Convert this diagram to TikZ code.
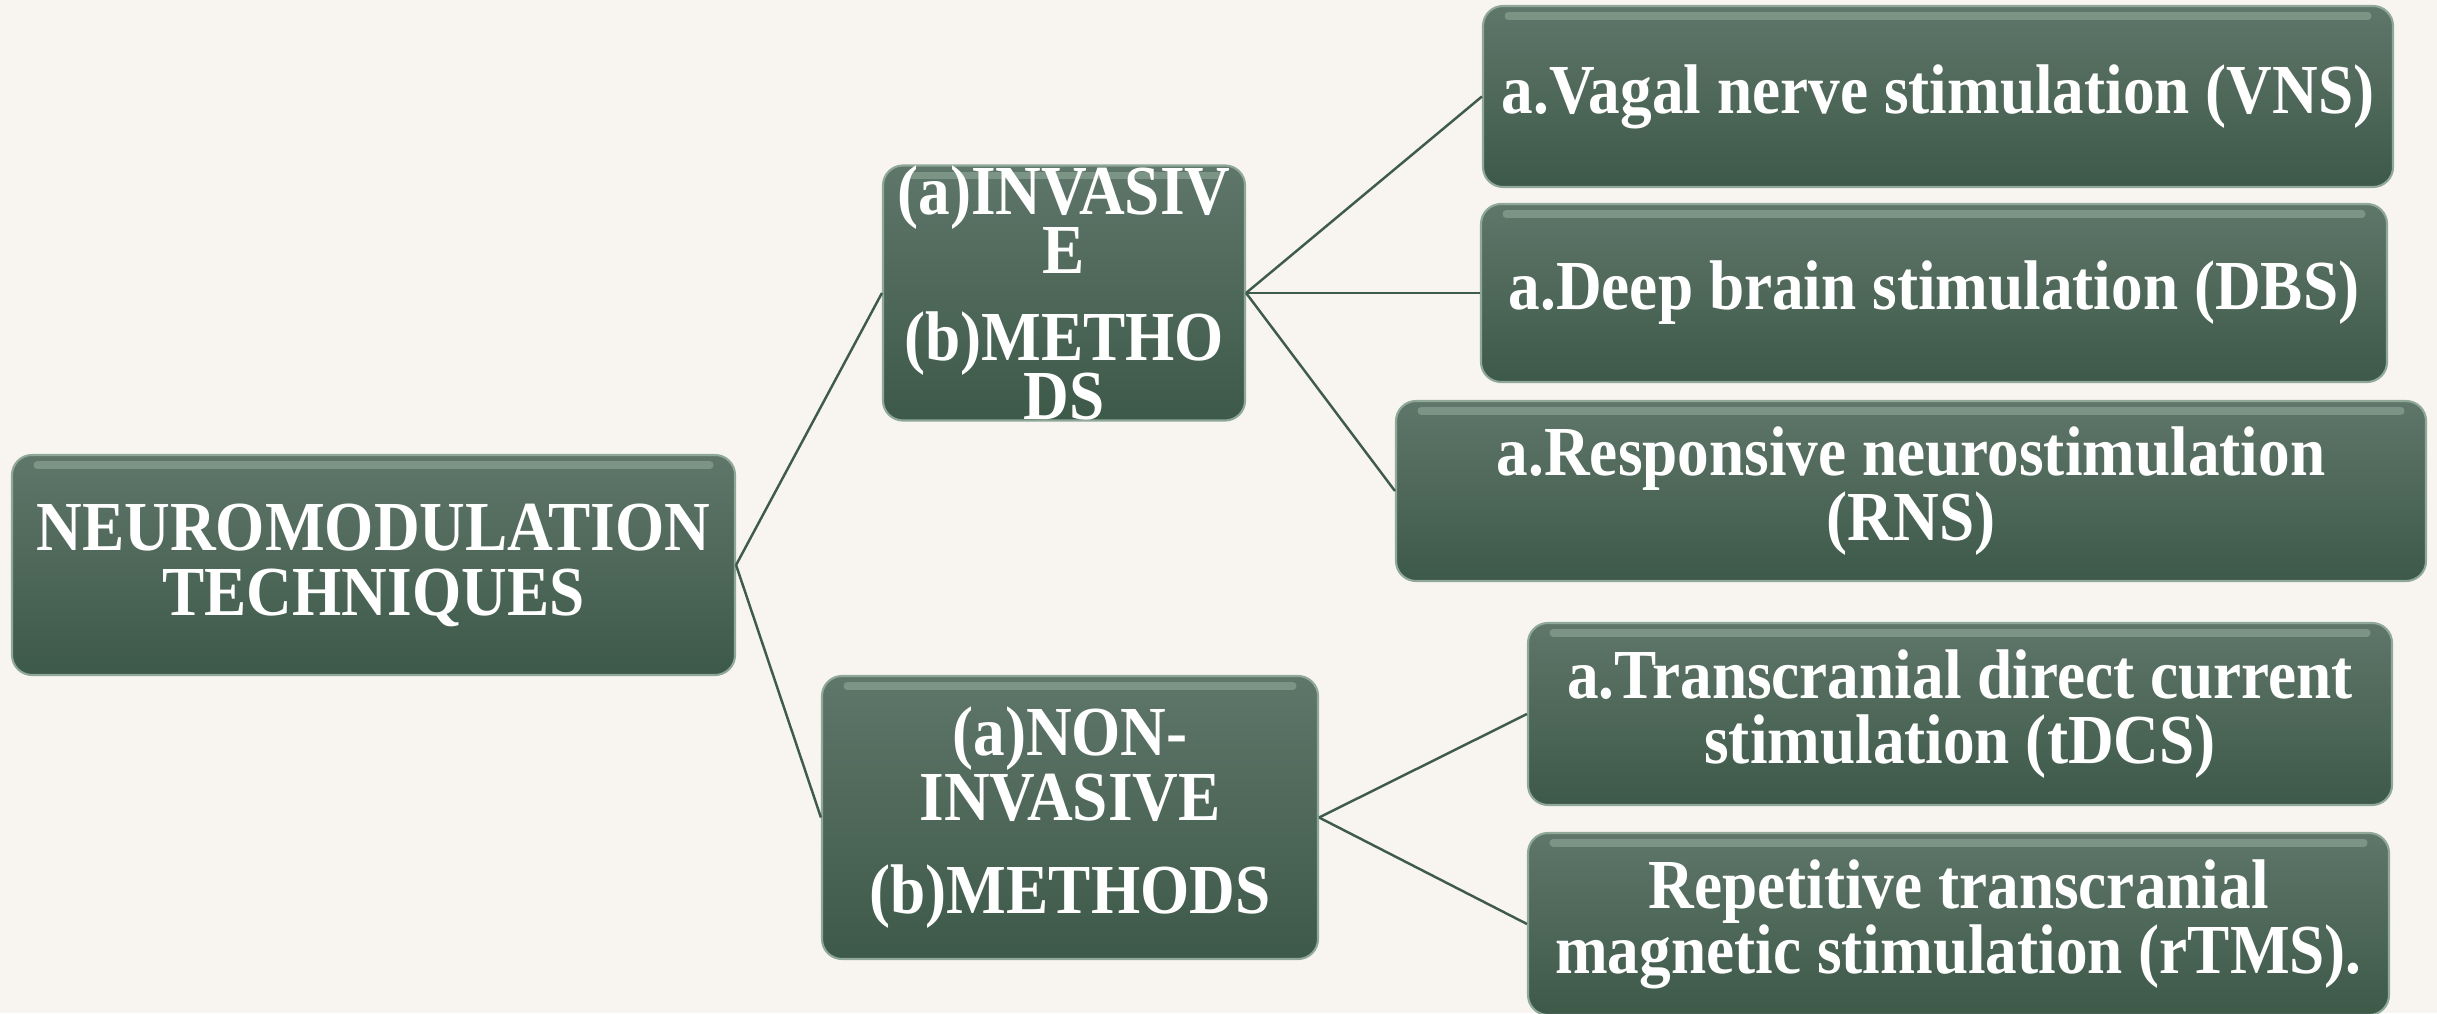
\documentclass[tikz,border=0pt]{standalone}
\usepackage{fontspec}
\setmainfont{Liberation Serif}[FakeStretch=0.9]
\usepackage{tikz}
\usetikzlibrary{calc}
\usepackage{xcolor}

\definecolor{boxtop}{HTML}{5F766A}
\definecolor{boxbot}{HTML}{3D5948}
\definecolor{boxrim}{HTML}{8FA898}
\definecolor{linkcol}{HTML}{3F5B4A}
\definecolor{bgcol}{HTML}{F8F5F1}

\tikzset{
  box/.style={rounded corners=0.2cm, draw=boxrim, line width=0.6pt,
    top color=boxtop, bottom color=boxbot, text=white, inner sep=0pt,
    align=center, font=\bfseries\fontsize{20}{18.5}\selectfont,
    path picture={\draw[boxrim!60!boxtop, line width=2pt, line cap=round]
      ($(path picture bounding box.north west)+(0.25,-0.10)$) --
      ($(path picture bounding box.north east)+(-0.25,-0.10)$);}},
  link/.style={draw=linkcol, line width=0.7pt}
}

\begin{document}
\begin{tikzpicture}
  % page and background
  \useasboundingbox (0,0) rectangle (24.37,10.13);
  \fill[bgcol] (0,0) rectangle (24.37,10.13);

  % root
  \node[box, minimum width=7.23cm, minimum height=2.20cm] (root) at (3.735,4.48)
    {NEUROMODULATION\\TECHNIQUES};

  % second level
  \node[box, minimum width=3.62cm, minimum height=2.54cm] (inv) at (10.64,7.20)
    {(a)INVASIV\\[-1.5pt]E\\[6pt](b)METHO\\[-1.5pt]DS};
  \node[box, minimum width=4.96cm, minimum height=2.83cm] (noninv) at (10.70,1.955)
    {(a)NON-\\INVASIVE\\[8pt](b)METHODS};

  % invasive methods
  \node[box, minimum width=9.10cm, minimum height=1.81cm] (vns) at (19.38,9.165)
    {a.Vagal nerve stimulation (VNS)};
  \node[box, minimum width=9.06cm, minimum height=1.78cm] (dbs) at (19.34,7.20)
    {a.Deep brain stimulation (DBS)};
  \node[box, minimum width=10.30cm, minimum height=1.80cm] (rns) at (19.11,5.22)
    {a.Responsive neurostimulation\\(RNS)};

  % non-invasive methods
  \node[box, minimum width=8.64cm, minimum height=1.82cm] (tdcs) at (19.60,2.99)
    {a.Transcranial direct current\\stimulation (tDCS)};
  \node[box, minimum width=8.61cm, minimum height=1.82cm] (rtms) at (19.585,0.89)
    {Repetitive transcranial\\magnetic stimulation (rTMS).};

  % connectors
  \foreach \t in {inv,noninv}{
    \draw[link] (root.east) -- (\t.west);
  }
  \foreach \t in {vns,dbs,rns}{
    \draw[link] (inv.east) -- (\t.west);
  }
  \foreach \t in {tdcs,rtms}{
    \draw[link] (noninv.east) -- (\t.west);
  }
\end{tikzpicture}
\end{document}
